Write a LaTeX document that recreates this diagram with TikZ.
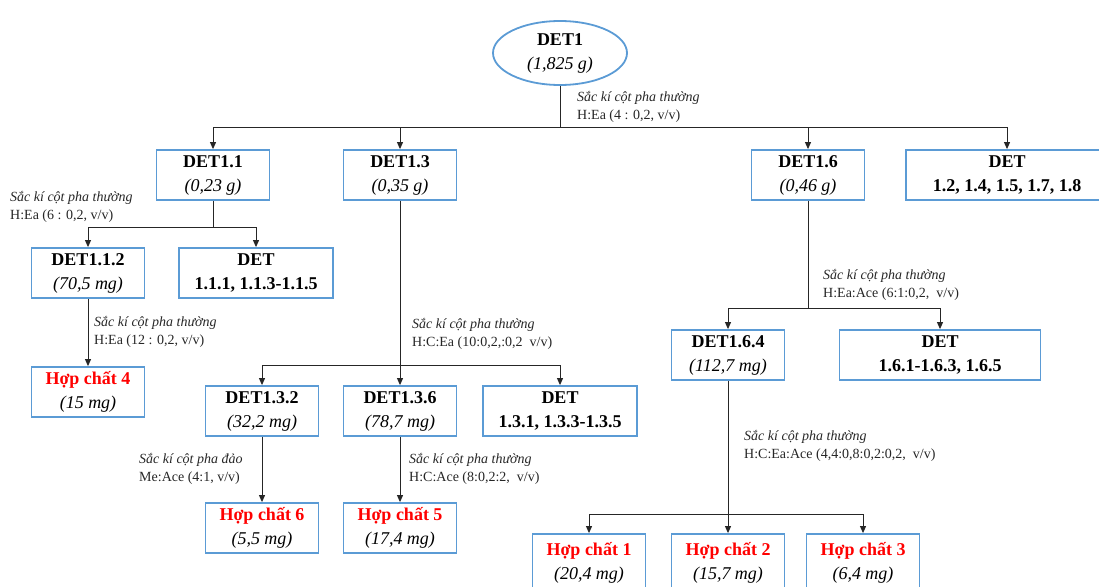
\documentclass[tikz,border=0pt]{standalone}
\usepackage{fontspec}
\setmainfont{Liberation Serif}
\usetikzlibrary{shapes.geometric,arrows.meta}
\definecolor{boxblue}{RGB}{91,155,213}
\definecolor{hcred}{RGB}{255,0,0}

\begin{document}
\begin{tikzpicture}[x=1pt,y=-1pt,
  box/.style={draw=boxblue,line width=1.8pt,inner sep=0pt,align=center,
    minimum width=113pt,minimum height=50pt,font=\fontsize{18}{24}\selectfont},
  note/.style={anchor=west,align=left,inner sep=0pt,text=black!85,
    font=\fontsize{14}{18}\selectfont},
  link/.style={black!85,line width=0.9pt},
  arr/.style={link,-{Triangle[length=7pt,width=6pt]}}]
\useasboundingbox (0,0) rectangle (1099,586);
% top level
\node [ellipse,draw=boxblue,line width=1.8pt,minimum width=134pt,minimum height=64pt,
  inner sep=0pt,align=center,font=\fontsize{18}{24}\selectfont] (det1) at (560,53)
  {\textbf{DET1}\\\textit{(1,825 g)}};
\node [box] (det11) at (213,175) {\textbf{DET1.1}\\\textit{(0,23 g)}};
\node [box] (det13) at (400,175) {\textbf{DET1.3}\\\textit{(0,35 g)}};
\node [box] (det16) at (808,175) {\textbf{DET1.6}\\\textit{(0,46 g)}};
\node [box,minimum width=202pt] (det12) at (1007,175) {\textbf{DET}\\\textbf{1.2, 1.4, 1.5, 1.7, 1.8}};
% branch DET1.1
\node [box] (det112) at (88,273) {\textbf{DET1.1.2}\\\textit{(70,5 mg)}};
\node [box,minimum width=154pt] (det111) at (256,273) {\textbf{DET}\\\textbf{1.1.1, 1.1.3-1.1.5}};
\node [box] (hc4) at (88,392) {\textcolor{hcred}{\textbf{Hợp chất 4}}\\\textit{(15 mg)}};
% branch DET1.3
\node [box] (det132) at (262,411) {\textbf{DET1.3.2}\\\textit{(32,2 mg)}};
\node [box] (det136) at (400,411) {\textbf{DET1.3.6}\\\textit{(78,7 mg)}};
\node [box,minimum width=154pt] (det131) at (560,411) {\textbf{DET}\\\textbf{1.3.1, 1.3.3-1.3.5}};
\node [box] (hc6) at (262,528) {\textcolor{hcred}{\textbf{Hợp chất 6}}\\\textit{(5,5 mg)}};
\node [box] (hc5) at (400,528) {\textcolor{hcred}{\textbf{Hợp chất 5}}\\\textit{(17,4 mg)}};
% branch DET1.6
\node [box] (det164) at (728,355) {\textbf{DET1.6.4}\\\textit{(112,7 mg)}};
\node [box,minimum width=201pt] (det161) at (940,355) {\textbf{DET}\\\textbf{1.6.1-1.6.3, 1.6.5}};
\node [box,minimum height=58pt] (hc1) at (589,563) {\textcolor{hcred}{\textbf{Hợp chất 1}}\\\textit{(20,4 mg)}};
\node [box,minimum height=58pt] (hc2) at (728,563) {\textcolor{hcred}{\textbf{Hợp chất 2}}\\\textit{(15,7 mg)}};
\node [box,minimum height=58pt] (hc3) at (863,563) {\textcolor{hcred}{\textbf{Hợp chất 3}}\\\textit{(6,4 mg)}};
% junctions
\coordinate (j1) at (560,127);
\coordinate (j2) at (213,227);
\coordinate (j3) at (400,365);
\coordinate (j4) at (808,308);
\coordinate (j5) at (728,514);
% connectors
\draw [link] (det1) -- (j1);
\draw [arr] (j1) -| (det11);
\draw [arr] (j1) -| (det13);
\draw [arr] (j1) -| (det16);
\draw [arr] (j1) -| (det12);
\draw [link] (det11) -- (j2);
\draw [arr] (j2) -| (det112);
\draw [arr] (j2) -| (det111);
\draw [arr] (det112) -- (hc4);
\draw [link] (det13) -- (j3);
\draw [arr] (j3) -| (det132);
\draw [arr] (j3) -- (det136);
\draw [arr] (j3) -| (det131);
\draw [arr] (det132) -- (hc6);
\draw [arr] (det136) -- (hc5);
\draw [link] (det16) -- (j4);
\draw [arr] (j4) -| (det164);
\draw [arr] (j4) -| (det161);
\draw [link] (det164) -- (j5);
\draw [arr] (j5) -| (hc1);
\draw [arr] (j5) -- (hc2);
\draw [arr] (j5) -| (hc3);
% separation conditions
\node [note] (n1) at (577,107) {\textit{Sắc kí cột pha thường}\\H:Ea (4 : 0,2, v/v)};
\node [note] (n2) at (10,207) {\textit{Sắc kí cột pha thường}\\H:Ea (6 : 0,2, v/v)};
\node [note] (n3) at (94,332) {\textit{Sắc kí cột pha thường}\\H:Ea (12 : 0,2, v/v)};
\node [note] (n4) at (412,334) {\textit{Sắc kí cột pha thường}\\H:C:Ea (10:0,2,:0,2~ v/v)};
\node [note] (n5) at (139,469) {\textit{Sắc kí cột pha đảo}\\Me:Ace (4:1, v/v)};
\node [note] (n6) at (409,469) {\textit{Sắc kí cột pha thường}\\H:C:Ace (8:0,2:2,~ v/v)};
\node [note] (n7) at (823,285) {\textit{Sắc kí cột pha thường}\\H:Ea:Ace (6:1:0,2,~ v/v)};
\node [note] (n8) at (744,446) {\textit{Sắc kí cột pha thường}\\H:C:Ea:Ace (4,4:0,8:0,2:0,2,~ v/v)};
\end{tikzpicture}
\end{document}
